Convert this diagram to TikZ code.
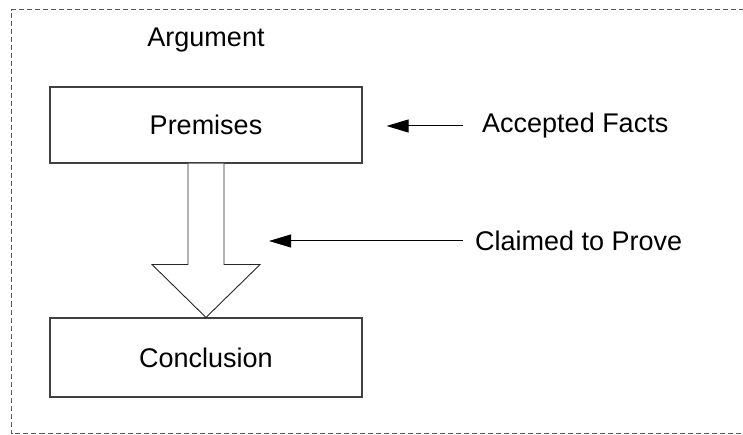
\documentclass[tikz,border=0pt]{standalone}
\usepackage{fontspec}
\setmainfont{Liberation Sans}
\usetikzlibrary{arrows.meta,calc}
\begin{document}
\begin{tikzpicture}[x=1pt,y=-1pt,
  txt/.style={font=\fontsize{27}{32}\selectfont, text=black, inner sep=0pt},
  stagebox/.style={draw=black!75, line width=1.1pt, minimum width=312pt, inner sep=0pt, font=\fontsize{27}{32}\selectfont},
  pointer/.style={line width=1pt, -{Triangle[length=22pt,width=13pt]}},
  frame/.style={draw=black!65, line width=1pt, dash pattern=on 5pt off 3pt}]
  \useasboundingbox (0,0) rectangle (743,435);
  \clip (0,0) rectangle (743,435);
  % outer dashed frame (runs off the right edge)
  \draw[frame] (760,10) -- (11.5,10) -- (11.5,433.5) -- (760,433.5);

  \node[txt] (arg) at (206,40) {Argument};
  \node[stagebox, minimum height=76pt] (prem) at (206,125) {Premises};
  \node[stagebox, minimum height=79pt] (concl) at (206,357.5) {Conclusion};

  % hollow block arrow from premises down to conclusion
  \draw[black!85, line width=0.9pt, fill=white]
    ($(prem.south)+(-18,0)$) -- ($(prem.south)+(-18,101)$) -- ($(prem.south)+(-54,101)$)
    -- (concl.north) -- ($(prem.south)+(54,101)$) -- ($(prem.south)+(18,101)$)
    -- ($(prem.south)+(18,0)$);

  \node[txt, anchor=west] (facts) at (482,126) {Accepted Facts};
  \node[txt, anchor=west] (claim) at (475,241) {Claimed to Prove};
  \coordinate (shaft) at ($(prem.south)+(63,79)$);

  \draw[pointer] ([xshift=-19pt]facts.west) -- ([xshift=24pt]prem.east |- facts.west);
  \draw[pointer] ([xshift=-12pt]claim.west) -- (shaft |- claim.west);
\end{tikzpicture}
\end{document}
